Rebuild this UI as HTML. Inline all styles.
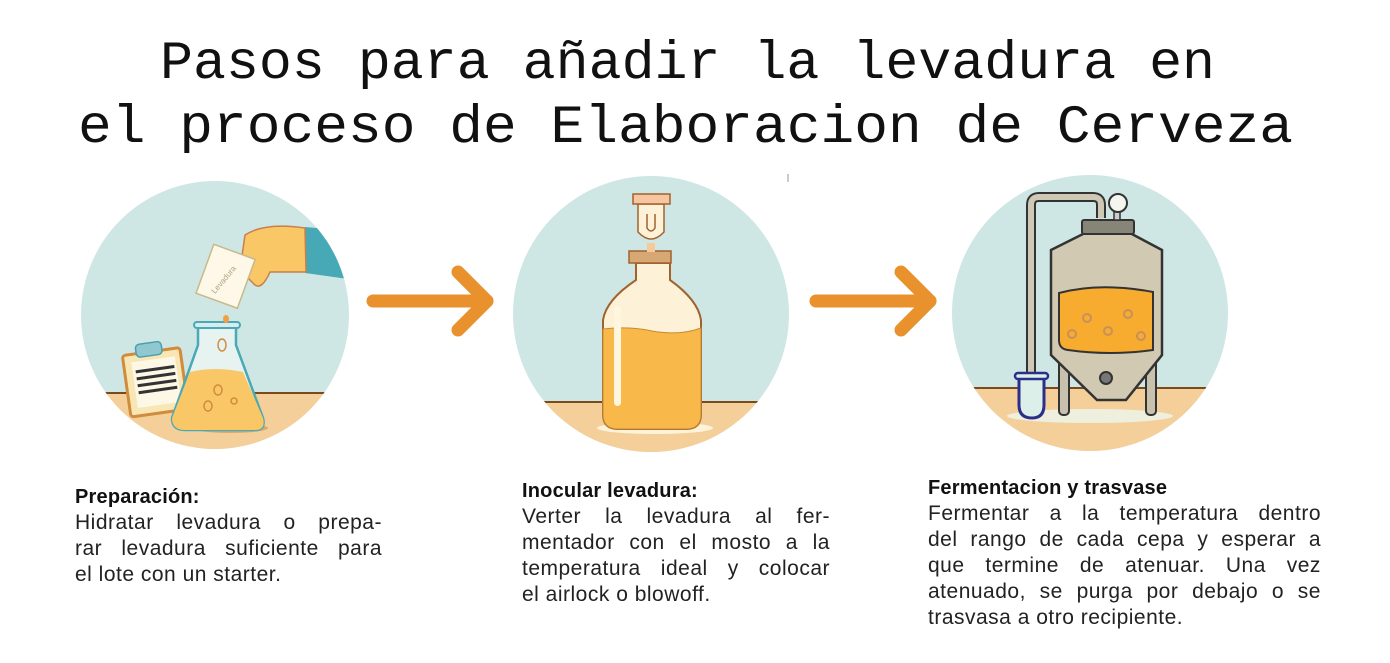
<!DOCTYPE html>
<html><head><meta charset="utf-8"><style>
body{margin:0;background:#fff;position:relative;width:1390px;height:663px;overflow:hidden}
svg{display:block;position:absolute;left:0;top:0}
.blk{position:absolute;font-family:"Liberation Sans",sans-serif;font-size:21px;letter-spacing:0.5px;color:#222;line-height:26px}
.blk b{display:block;color:#111;font-size:20px;letter-spacing:0.2px}
.j{white-space:nowrap;display:flex;justify-content:space-between}
</style></head><body>
<svg width="1390" height="663" viewBox="0 0 1390 663" xmlns="http://www.w3.org/2000/svg">
<defs>
<clipPath id="c1"><circle cx="215" cy="315" r="134"/></clipPath>
<clipPath id="c2"><circle cx="651" cy="314" r="138"/></clipPath>
<clipPath id="c3"><circle cx="1090" cy="313" r="138"/></clipPath>
</defs>
<text x="160" y="78" textLength="1055" lengthAdjust="spacingAndGlyphs" font-family="'Liberation Mono',monospace" font-size="54" fill="#111">Pasos para añadir la levadura en</text>
<text x="78" y="142" textLength="1215" lengthAdjust="spacingAndGlyphs" font-family="'Liberation Mono',monospace" font-size="54" fill="#111">el proceso de Elaboracion de Cerveza</text>

<g clip-path="url(#c1)">
<rect x="70" y="170" width="300" height="300" fill="#cfe7e4"/>
<rect x="70" y="393" width="300" height="100" fill="#f5cf9a"/>
<line x1="70" y1="393" x2="370" y2="393" stroke="#7a4a1c" stroke-width="2"/>
<path d="M305 227 L340 230 L355 280 L305 273 Z" fill="#46a9b5"/>
</g>
<path d="M245 235 Q265 222 305 228 L306 272 L270 272 Q262 290 255 285 L240 270 Z" fill="#f9c766" stroke="#c87f4a" stroke-width="1.5"/>
<g transform="rotate(20 225 275)"><rect x="204" y="250" width="44" height="52" fill="#fdf8e8" stroke="#c8b98a" stroke-width="1.5"/><text x="226" y="282" font-size="8" fill="#b0a380" text-anchor="middle" transform="rotate(-70 226 280)" font-family="Liberation Sans">Levadura</text></g>
<g transform="rotate(-8 150 380)"><rect x="126" y="352" width="58" height="62" rx="3" fill="#f9e6b5" stroke="#d08c3c" stroke-width="3"/><rect x="134" y="360" width="44" height="46" fill="#fdf7e6"/>
<g stroke="#333" stroke-width="3"><line x1="137" y1="370" x2="176" y2="370"/><line x1="137" y1="377" x2="176" y2="377"/><line x1="137" y1="384" x2="176" y2="384"/><line x1="137" y1="391" x2="176" y2="391"/></g>
<rect x="140" y="343" width="26" height="13" rx="4" fill="#8fc8d0" stroke="#4a9fae" stroke-width="1.5"/></g>
<ellipse cx="230" cy="428" rx="38" ry="5" fill="#d9a870"/>
<path d="M198 326 L198 345 L172 418 Q172 430 185 430 L255 430 Q266 430 263 418 L236 345 L236 326 Z" fill="#e6f3f1" stroke="#4aa9b5" stroke-width="2.5"/>
<path d="M190 372 Q215 366 243 372 L263 418 Q266 430 255 430 L185 430 Q172 430 172 418 Z" fill="#f9c766"/>
<rect x="194" y="322" width="46" height="6" rx="3" fill="#d6ecee" stroke="#4aa9b5" stroke-width="2"/>
<ellipse cx="226" cy="319" rx="3" ry="4" fill="#f0a040"/>
<g fill="none" stroke="#d08c3c" stroke-width="1.5"><ellipse cx="222" cy="345" rx="4" ry="6"/><ellipse cx="218" cy="390" rx="4" ry="5"/><ellipse cx="208" cy="406" rx="4" ry="5"/><circle cx="234" cy="401" r="3"/></g>

<g stroke="#e8912d" stroke-width="13" stroke-linecap="round" stroke-linejoin="round" fill="none">
<line x1="373" y1="301" x2="487" y2="301"/><polyline points="458,272 487,301 458,330"/></g>

<g clip-path="url(#c2)">
<rect x="500" y="170" width="310" height="300" fill="#cfe7e4"/>
<rect x="500" y="402" width="310" height="100" fill="#f5cf9a"/>
<line x1="500" y1="402" x2="810" y2="402" stroke="#7a4a1c" stroke-width="2"/>
</g>
<ellipse cx="655" cy="428" rx="58" ry="6" fill="#fdf3d8"/>
<path d="M636 263 L636 280 Q606 300 603 320 L603 414 Q603 429 618 429 L686 429 Q701 429 701 414 L701 320 Q698 300 670 280 L670 263 Z" fill="#fdf2d8" stroke="#a0622e" stroke-width="2"/>
<path d="M603 329 Q630 326 652 331 Q680 336 701 328 L701 414 Q701 429 686 429 L618 429 Q603 429 603 414 Z" fill="#f9b84a" stroke="#c98a35" stroke-width="1"/>
<rect x="614" y="306" width="7" height="100" rx="3.5" fill="#fff6e0"/>
<rect x="629" y="251" width="42" height="12" fill="#d8a874" stroke="#a0622e" stroke-width="1.5"/>
<rect x="647" y="243" width="8" height="9" fill="#f5c99a"/>
<path d="M638 204 L664 204 L664 232 Q651 246 638 232 Z" fill="#fdf2d8" stroke="#a0622e" stroke-width="1.5"/>
<path d="M647 214 L647 228 Q651 234 655 228 L655 214" fill="none" stroke="#a0622e" stroke-width="1.5"/>
<rect x="633" y="194" width="37" height="10" fill="#f7c5a0" stroke="#a0622e" stroke-width="1.5"/>

<g stroke="#e8912d" stroke-width="13" stroke-linecap="round" stroke-linejoin="round" fill="none">
<line x1="816" y1="301" x2="930" y2="301"/><polyline points="901,272 930,301 901,330"/></g>

<g clip-path="url(#c3)">
<rect x="940" y="170" width="300" height="300" fill="#cfe7e4"/>
<rect x="940" y="388" width="300" height="100" fill="#f5cf9a"/>
<line x1="940" y1="388" x2="1240" y2="388" stroke="#7a4a1c" stroke-width="2"/>
</g>
<ellipse cx="1090" cy="416" rx="83" ry="7" fill="#eeefdc"/>
<path d="M1031 375 L1031 205 Q1031 197 1039 197 L1093 197 Q1101 197 1101 205 L1101 218" fill="none" stroke="#333" stroke-width="10"/>
<path d="M1031 375 L1031 205 Q1031 197 1039 197 L1093 197 Q1101 197 1101 205 L1101 218" fill="none" stroke="#cfc8b4" stroke-width="6"/>
<rect x="1059" y="355" width="10" height="60" rx="4" fill="#c8c1ad" stroke="#333" stroke-width="2"/>
<rect x="1146" y="355" width="10" height="60" rx="4" fill="#c8c1ad" stroke="#333" stroke-width="2"/>
<path d="M1051 250 L1085 233 L1130 233 L1162 250 L1162 355 L1126 400 L1097 400 L1051 355 Z" fill="#d2c9b3" stroke="#333" stroke-width="2.5"/>
<path d="M1059 293 Q1100 282 1153 292 L1153 350 Q1110 356 1068 350 Q1059 349 1059 340 Z" fill="#f7ab2f" stroke="#333" stroke-width="2"/>
<g fill="none" stroke="#c8905a" stroke-width="2"><circle cx="1087" cy="318" r="4"/><circle cx="1128" cy="314" r="4"/><circle cx="1072" cy="334" r="4"/><circle cx="1108" cy="331" r="4"/><circle cx="1141" cy="336" r="4"/></g>
<circle cx="1106" cy="378" r="6" fill="#777" stroke="#333" stroke-width="2"/>
<rect x="1082" y="220" width="52" height="14" rx="2" fill="#868578" stroke="#333" stroke-width="2"/>
<rect x="1114" y="208" width="6" height="12" fill="#ccc" stroke="#333" stroke-width="1.5"/>
<circle cx="1118" cy="203" r="9" fill="#f5f5f0" stroke="#333" stroke-width="2"/>
<path d="M1019 378 L1019 405 Q1019 418 1032 418 Q1044 418 1044 405 L1044 378" fill="#ddefe9" stroke="#2c2f8a" stroke-width="3"/>
<rect x="1015" y="373" width="33" height="6" rx="3" fill="#ddefe9" stroke="#2c2f8a" stroke-width="2.5"/>
<line x1="788" y1="174" x2="788" y2="182" stroke="#999" stroke-width="1"/>
</svg>

<div class="blk" style="left:75px;top:484px;width:307px">
<b>Preparación:</b>
<div class="j"><span>Hidratar</span><span>levadura</span><span>o</span><span>prepa-</span></div>
<div class="j"><span>rar</span><span>levadura</span><span>suficiente</span><span>para</span></div>
<div>el lote con un starter.</div>
</div>
<div class="blk" style="left:522px;top:478px;width:308px">
<b>Inocular levadura:</b>
<div class="j"><span>Verter</span><span>la</span><span>levadura</span><span>al</span><span>fer-</span></div>
<div class="j"><span>mentador</span><span>con</span><span>el</span><span>mosto</span><span>a</span><span>la</span></div>
<div class="j"><span>temperatura</span><span>ideal</span><span>y</span><span>colocar</span></div>
<div>el airlock o blowoff.</div>
</div>
<div class="blk" style="left:928px;top:475px;width:393px">
<b>Fermentacion y trasvase</b>
<div class="j"><span>Fermentar</span><span>a</span><span>la</span><span>temperatura</span><span>dentro</span></div>
<div class="j"><span>del</span><span>rango</span><span>de</span><span>cada</span><span>cepa</span><span>y</span><span>esperar</span><span>a</span></div>
<div class="j"><span>que</span><span>termine</span><span>de</span><span>atenuar.</span><span>Una</span><span>vez</span></div>
<div class="j"><span>atenuado,</span><span>se</span><span>purga</span><span>por</span><span>debajo</span><span>o</span><span>se</span></div>
<div>trasvasa a otro recipiente.</div>
</div>
</body></html>
